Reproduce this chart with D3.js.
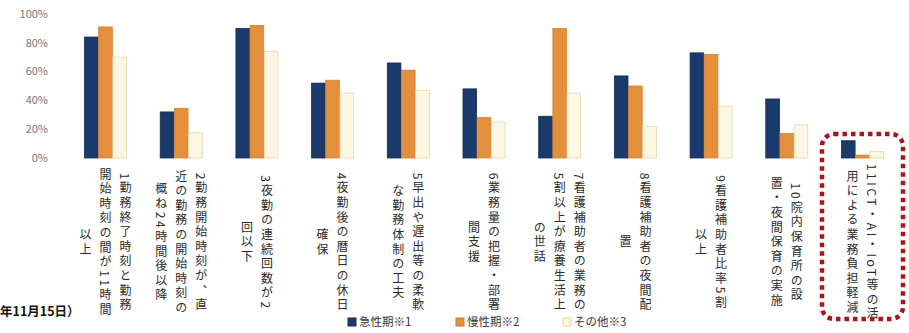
<!DOCTYPE html>
<html><head><meta charset="utf-8">
<script src="https://cdn.jsdelivr.net/npm/d3@7"></script>
<style>
html,body{margin:0;padding:0;background:#fff;}
svg{display:block;font-family:"Noto Sans CJK JP","Noto Sans",sans-serif;}
</style></head>
<body>
<svg id="c" width="909" height="333"></svg>
<script>
const categories = [
  "1勤務終了時刻と勤務|開始時刻の間が11時間|以上",
  "2勤務開始時刻が、直|近の勤務の開始時刻の|概ね24時間後以降",
  "3夜勤の連続回数が2|回以下",
  "4夜勤後の暦日の休日|確保",
  "5早出や遅出等の柔軟|な勤務体制の工夫",
  "6業務量の把握・部署|間支援",
  "7看護補助者の業務の|5割以上が療養生活上|の世話",
  "8看護補助者の夜間配|置",
  "9看護補助者比率5割|以上",
  "10院内保育所の設|置・夜間保育の実施",
  "11ICT・AI・IoT等の活|用による業務負担軽減"
];
const seriesNames = ["急性期※1", "慢性期※2", "その他※3"];
const acute   = [84, 32, 90, 52, 66, 48, 29, 57, 73, 41, 12];
const chronic = [91, 34.5, 92, 54, 61, 28, 90, 50, 72, 17, 2];
const other   = [70, 17.5, 74, 45, 47, 25, 45, 22, 36, 23, 4.5];
const yTicks = [0, 20, 40, 60, 80, 100];
const footNote = "年11月15日）";

const colors = ["#1b3a6c", "#e48f3c", "#fcf6e2"];
const strokes = ["#142c55", "#d37f2e", "#e2d7ae"];
const series = [acute, chronic, other];

const svg = d3.select("#c");
const x = d3.scaleBand().domain(d3.range(categories.length)).range([62, 906]).paddingInner(0.43).paddingOuter(0.29);
const xs = d3.scaleBand().domain(d3.range(3)).range([0, x.bandwidth()]).padding(0.04);
const y = d3.scaleLinear().domain([0, 100]).range([158, 14]);

// y axis labels
svg.append("g").selectAll("text").data(yTicks).join("text")
  .attr("x", 48).attr("y", d => y(d)).attr("dy", "0.35em")
  .attr("text-anchor", "end").attr("font-size", 11).attr("fill", "#777")
  .text(d => d + "%");

// bars
const g = svg.append("g").selectAll("g").data(categories).join("g")
  .attr("transform", (d, i) => `translate(${x(i)},0)`);
g.selectAll("rect").data((d, i) => series.map((s, k) => ({k, v: s[i]}))).join("rect")
  .attr("x", d => xs(d.k)).attr("width", xs.bandwidth())
  .attr("y", d => y(d.v)).attr("height", d => y(0) - y(d.v))
  .attr("fill", d => colors[d.k]).attr("stroke", d => strokes[d.k]).attr("stroke-width", 0.8);

// vertical category labels
const lineGap = 20;
const lab = svg.append("g");
categories.forEach((c, i) => {
  const cols = c.split("|");
  const cx = x(i) + x.bandwidth() / 2;
  cols.forEach((t, j) => {
    const off = ((cols.length - 1) / 2 - j) * lineGap;
    lab.append("text")
      .attr("x", cx + off).attr("y", 243)
      .attr("text-anchor", "middle")
      .attr("font-size", 12).attr("fill", "#2a2a2a")
      .style("writing-mode", "vertical-rl").style("text-orientation", "mixed")
      .style("letter-spacing", "2.6px")
      .text(t);
  });
});

// highlight box
svg.append("rect").attr("x", 822).attr("y", 134).attr("width", 81).attr("height", 185)
  .attr("rx", 12).attr("fill", "none").attr("stroke", "#a8161c")
  .attr("stroke-width", 4.5).attr("stroke-dasharray", "4.5 4");

// legend
const legX = [348, 456, 563];
const leg = svg.append("g").selectAll("g").data(seriesNames).join("g")
  .attr("transform", (d, i) => `translate(${legX[i]},322)`);
leg.append("rect").attr("x", 0).attr("y", -4).attr("width", 8).attr("height", 8)
  .attr("fill", (d, i) => colors[i]).attr("stroke", (d, i) => strokes[i]);
leg.append("text").attr("x", 11).attr("dy", "0.35em").attr("font-size", 11.5).attr("fill", "#333").text(d => d);

// footnote
svg.append("text").attr("x", 0).attr("y", 312).attr("dy", "0.35em")
  .attr("font-size", 12.5).attr("font-weight", "bold").attr("fill", "#111").text(footNote);
</script>
</body></html>
